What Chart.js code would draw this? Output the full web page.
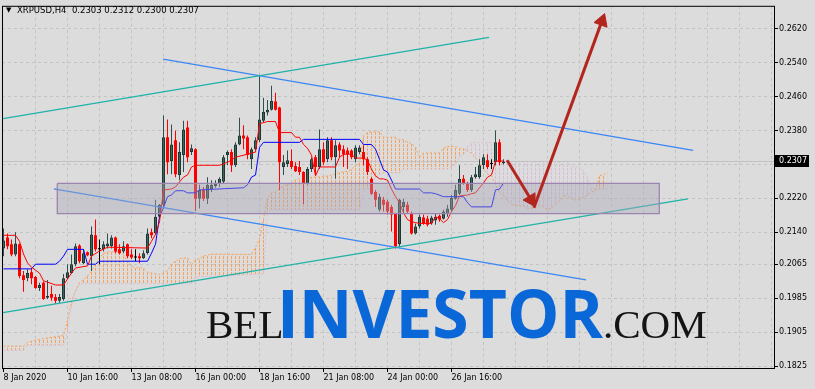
<!DOCTYPE html>
<html><head><meta charset="utf-8">
<script src="https://cdn.jsdelivr.net/npm/chart.js@4.4.1/dist/chart.umd.min.js"></script>
<style>html,body{margin:0;padding:0;background:#DCDCDC;overflow:hidden}canvas{display:block}</style>
</head><body>
<canvas id="c" width="815" height="389"></canvas>
<script>
// ---------- data ----------
const symbolTitle = 'XRPUSD,H4';
const lastQuote = ['0.2303', '0.2312', '0.2300', '0.2307'];
const bidPrice = 0.2307;
const timeLabels = ['8 Jan 2020', '10 Jan 16:00', '13 Jan 08:00', '16 Jan 00:00', '18 Jan 16:00', '21 Jan 08:00', '24 Jan 00:00', '26 Jan 16:00'];
const priceLabels = ['0.2620', '0.2540', '0.2460', '0.2380', '0.2300', '0.2220', '0.2140', '0.2065', '0.1985', '0.1905', '0.1825'];

const opens = [.2102,.2128,.2112,.2088,.2112,.2039,.2032,.2046,.2035,.2009,
.2021,.1986,.1995,.1988,.1979,.1983,.2032,.2044,.2065,.2109,
.2067,.2093,.2084,.2133,.2100,.2100,.2107,.2107,.2128,.2100,
.2095,.2112,.2088,.2081,.2084,.2079,.2091,.2140,.2137,.2177,
.2205,.2364,.2308,.2357,.2275,.2322,.2387,.2329,.2336,.2219,
.2240,.2219,.2242,.2249,.2254,.2259,.2322,.2329,.2298,.2347,
.2368,.2364,.2312,.2336,.2357,.2403,.2422,.2429,.2448,.2434,
.2294,.2301,.2308,.2296,.2294,.2282,.2254,.2289,.2317,.2294,
.2336,.2312,.2357,.2317,.2347,.2336,.2333,.2333,.2312,.2329,
.2329,.2312,.2266,.2235,.2193,.2217,.2212,.2200,.2184,.2112,
.2200,.2205,.2184,.2137,.2154,.2175,.2172,.2161,.2168,.2179,
.2172,.2184,.2193,.2219,.2231,.2266,.2254,.2240,.2270,.2270,
.2298,.2310,.2301,.2305,.2352,.2303];
const highs = [.2149,.2137,.2123,.2140,.2114,.2049,.2053,.2056,.2037,.2021,
.2025,.2028,.2014,.1995,.1995,.2042,.2065,.2088,.2114,.2112,
.2100,.2095,.2154,.2170,.2123,.2119,.2137,.2133,.2130,.2112,
.2119,.2114,.2100,.2100,.2091,.2098,.2149,.2149,.2217,.2207,
.2415,.2406,.2394,.2380,.2352,.2403,.2403,.2347,.2338,.2252,
.2247,.2270,.2263,.2263,.2270,.2322,.2333,.2336,.2352,.2410,
.2392,.2368,.2340,.2364,.2511,.2457,.2452,.2485,.2469,.2436,
.2322,.2333,.2336,.2305,.2308,.2284,.2294,.2317,.2322,.2382,
.2352,.2364,.2364,.2357,.2352,.2345,.2340,.2336,.2345,.2345,
.2345,.2317,.2270,.2240,.2231,.2224,.2217,.2205,.2186,.2219,
.2219,.2212,.2189,.2161,.2182,.2182,.2179,.2179,.2184,.2182,
.2193,.2205,.2228,.2252,.2298,.2275,.2259,.2275,.2294,.2312,
.2324,.2324,.2312,.2380,.2359,.2312];
const lows = [.2084,.2100,.2084,.2084,.2032,.2000,.2025,.2018,.2007,.2002,
.1981,.1983,.1979,.1972,.1974,.1979,.2030,.2042,.2060,.2067,
.2065,.2084,.2049,.2095,.2065,.2095,.2102,.2102,.2091,.2088,
.2091,.2079,.2077,.2072,.2067,.2077,.2088,.2126,.2135,.2172,
.2196,.2277,.2277,.2270,.2263,.2282,.2305,.2322,.2191,.2196,
.2214,.2207,.2235,.2245,.2247,.2254,.2298,.2282,.2294,.2345,
.2336,.2312,.2289,.2333,.2352,.2399,.2415,.2427,.2427,.2240,
.2275,.2294,.2289,.2282,.2275,.2207,.2252,.2282,.2275,.2289,
.2298,.2305,.2310,.2266,.2317,.2294,.2289,.2312,.2305,.2324,
.2298,.2275,.2228,.2200,.2189,.2189,.2182,.2142,.2102,.2105,
.2184,.2184,.2135,.2135,.2149,.2158,.2154,.2158,.2158,.2165,
.2170,.2177,.2189,.2217,.2228,.2252,.2235,.2235,.2266,.2266,
.2289,.2289,.2289,.2298,.2298,.2300];
const closes = [.2121,.2107,.2088,.2114,.2037,.2028,.2044,.2032,.2009,.2016,
.1983,.1990,.1986,.1979,.1988,.2032,.2046,.2065,.2107,.2072,
.2091,.2086,.2135,.2100,.2100,.2112,.2114,.2128,.2095,.2091,
.2107,.2084,.2081,.2081,.2079,.2091,.2137,.2133,.2177,.2205,
.2364,.2305,.2347,.2277,.2329,.2382,.2317,.2338,.2219,.2240,
.2219,.2252,.2252,.2254,.2266,.2317,.2329,.2298,.2347,.2368,
.2361,.2322,.2336,.2357,.2406,.2424,.2429,.2450,.2429,.2305,
.2305,.2310,.2294,.2284,.2282,.2254,.2289,.2312,.2294,.2336,
.2305,.2357,.2317,.2345,.2333,.2324,.2324,.2317,.2340,.2340,
.2312,.2282,.2231,.2217,.2224,.2205,.2189,.2182,.2107,.2217,
.2212,.2189,.2137,.2154,.2177,.2161,.2158,.2175,.2177,.2170,
.2189,.2196,.2221,.2240,.2266,.2254,.2240,.2270,.2277,.2298,
.2317,.2294,.2301,.2352,.2305,.2307];

// Ichimoku lines: [bar, price] breakpoints
const tenkanSen = [[0,.2133],[3,.2133],[4,.2119],[5,.2089],[6,.2068],[7,.2058],[9,.2044],[10,.2026],[13,.2016],[15,.2016],[16,.2030],[17,.2044],[18,.2056],[21,.2061],[22,.2084],[24,.2096],[26,.2105],[36,.2103],[37,.2119],[38,.2135],[39,.2165],[40,.2240],[42,.2242],[43,.2247],[45,.2270],[46,.2275],[47,.2294],[48,.2298],[54,.2298],[55,.2301],[57,.2310],[58,.2317],[61,.2324],[63,.2329],[64,.2396],[66,.2401],[68,.2401],[69,.2375],[72,.2375],[73,.2364],[74,.2364],[75,.2347],[76,.2338],[77,.2322],[78,.2273],[79,.2294],[83,.2294],[84,.2317],[85,.2324],[87,.2324],[88,.2315],[90,.2315],[91,.2310],[92,.2289],[93,.2273],[94,.2266],[95,.2266],[96,.2263],[97,.2242],[98,.2224],[99,.2210],[100,.2186],[101,.2170],[102,.2165],[103,.2163],[104,.2161],[107,.2161],[108,.2177],[109,.2172],[110,.2163],[111,.2170],[112,.2189],[113,.2203],[114,.2226],[116,.2228],[117,.2231],[118,.2233],[119,.2245],[120,.2256],[121,.2270],[122,.2275],[123,.2308],[125,.2308]];
const kijunSen = [[0,.2054],[7,.2054],[8,.2065],[13,.2065],[14,.2072],[15,.2084],[16,.2100],[20,.2100],[21,.2065],[23,.2065],[24,.2072],[36,.2072],[37,.2091],[38,.2112],[39,.2177],[40,.2198],[41,.2224],[42,.2228],[43,.2238],[45,.2238],[46,.2233],[48,.2233],[49,.2240],[60,.2245],[61,.2252],[62,.2270],[63,.2275],[64,.2340],[65,.2352],[74,.2352],[75,.2359],[89,.2359],[90,.2347],[92,.2347],[93,.2336],[94,.2312],[95,.2287],[96,.2282],[97,.2263],[98,.2242],[104,.2242],[105,.2233],[107,.2233],[108,.2231],[110,.2224],[115,.2224],[116,.2210],[117,.2200],[122,.2200],[123,.2240],[124,.2242],[125,.2256]];
const senkouA = [[0,.1872],[5,.1872],[6,.1881],[8,.1886],[12,.1893],[15,.1897],[16,.1932],[17,.1979],[18,.2002],[19,.2021],[21,.2037],[22,.2049],[24,.2080],[25,.2090],[26,.2094],[29,.2094],[30,.2087],[31,.2072],[32,.2061],[33,.2056],[34,.2058],[35,.2055],[36,.2046],[39,.2041],[40,.2044],[41,.2050],[42,.2065],[43,.2072],[44,.2078],[46,.2080],[47,.2063],[48,.2075],[49,.2078],[50,.2084],[52,.2089],[62,.2088],[63,.2105],[64,.2124],[65,.2171],[66,.2219],[67,.2233],[68,.2235],[69,.2243],[71,.2254],[72,.2254],[73,.2264],[74,.2266],[75,.2269],[80,.2271],[81,.2273],[83,.2277],[84,.2281],[86,.2284],[87,.2288],[88,.2298],[89,.2302],[90,.2368],[91,.2375],[92,.2377],[94,.2377],[95,.2364],[98,.2364],[99,.2358],[100,.2358],[101,.2353],[102,.2349],[103,.2341],[104,.2316],[105,.2327],[109,.2327],[110,.2338],[111,.2342],[113,.2342],[114,.2337],[115,.2337],[116,.2331],[117,.2327],[118,.2315],[119,.2305],[120,.2289],[121,.2277],[122,.2273],[123,.2253],[124,.2233],[125,.2226],[126,.2214],[127,.2206],[128,.2204],[129,.2203],[130,.2202],[131,.2197],[133,.2197],[134,.2204],[135,.2200],[136,.2194],[137,.2197],[138,.2207],[139,.2214],[140,.2225],[141,.2226],[142,.2219],[143,.2216],[144,.2217],[145,.2223],[146,.2228],[147,.2235],[148,.2238],[149,.2274],[150,.2275],[151,.2282]];
const senkouB = [[0,.1862],[5,.1862],[6,.1874],[15,.1874],[16,.1909],[17,.1967],[18,.2002],[19,.2019],[47,.2019],[48,.2035],[65,.2042],[66,.2193],[89,.2193],[90,.2241],[91,.2242],[92,.2245],[93,.2270],[94,.2276],[95,.2280],[99,.2280],[100,.2288],[101,.2288],[102,.2289],[111,.2289],[112,.2294],[113,.2300],[114,.2318],[115,.2323],[116,.2341],[117,.2351],[123,.2351],[124,.2307],[141,.2307],[142,.2294],[144,.2294],[145,.2285],[146,.2269],[147,.2242],[151,.2242]];

// drawing objects: [bar, price] anchor points
const tealUpper = [[-0.125, 0.24079], [121.4, 0.25990]];
const tealLower = [[-0.125, 0.19510], [171.1, 0.22191]];
const blueUpper = [[39.9, 0.25478], [172.4, 0.23333]];
const blueLower = [[12.6, 0.22424], [145.6, 0.20280]];
const zoneBars = [13.45, 163.95];
const zonePrices = [0.22552, 0.21841];
const arrowDown = [[125.9, 0.23100], [131.9, 0.22166]];
const arrowUp = [[132.6, 0.21981], [149.6, 0.26375]];

// ---------- chart ----------
const canvas = document.getElementById('c');
const ctx2d = canvas.getContext('2d');
function hatch(color) {
  const c = document.createElement('canvas'); c.width = 4; c.height = 4;
  const g = c.getContext('2d'); g.fillStyle = color; g.fillRect(3, 0, 1, 3);
  return ctx2d.createPattern(c, 'repeat');
}
const pts = arr => arr.map(p => ({x: p[0], y: p[1]}));
const idx = opens.map((_, i) => i);
const dirOf = i => closes[i] > opens[i] ? 1 : (closes[i] < opens[i] ? -1 : 0);
const BULL = '#3A675C', BULL_EDGE = '#1F3531', BEAR = '#FF0000';
const bodyColors = idx.map(i => dirOf(i) > 0 ? BULL : dirOf(i) < 0 ? BEAR : '#000000');
const bodyBorders = idx.map(i => dirOf(i) > 0 ? BULL_EDGE : dirOf(i) < 0 ? BEAR : '#000000');
const bodyBorderW = idx.map(i => dirOf(i) > 0 ? 1 : 0);
const wickColors = idx.map(i => dirOf(i) > 0 ? '#2F4F4F' : dirOf(i) < 0 ? BEAR : '#000000');

const lineDs = (arr, color, order, extra) => Object.assign({
  type: 'line', data: pts(arr), borderColor: color, borderWidth: 1,
  pointRadius: 0, fill: false, tension: 0, order
}, extra || {});

function arrowRotation(c) {
  const d = c.dataset.data, xs = c.chart.scales.x, ys = c.chart.scales.y;
  const dx = xs.getPixelForValue(d[1].x) - xs.getPixelForValue(d[0].x);
  const dy = ys.getPixelForValue(d[1].y) - ys.getPixelForValue(d[0].y);
  return Math.atan2(dx, -dy) * 180 / Math.PI;
}
const arrowDs = arr => lineDs(arr, '#B3261E', 0, {
  borderWidth: 3, pointStyle: 'triangle', pointRotation: arrowRotation,
  pointRadius: c => c.dataIndex === 1 ? 8 : 0,
  pointBackgroundColor: '#B3261E', pointBorderColor: '#B3261E', pointBorderWidth: 1
});

const overlay = {
  id: 'overlay',
  beforeDatasetsDraw(chart) {
    const c = chart.ctx;
    c.save();
    c.textBaseline = 'alphabetic'; c.textAlign = 'left';
    c.fillStyle = '#141414';
    c.font = '41px "Liberation Serif"';
    c.fillText('BEL', 206, 338);
    c.fillStyle = '#0A67D8';
    c.font = 'bold 66px "Open Sans"';
    c.fillText('INVESTOR', 277, 338);
    c.fillStyle = '#141414';
    c.font = '41px "Liberation Serif"';
    c.fillText('.COM', 603, 338);
    c.restore();
  },
  afterDraw(chart) {
    const c = chart.ctx, a = chart.chartArea;
    c.save();
    c.strokeStyle = '#000'; c.lineWidth = 1;
    c.strokeRect(a.left + 0.5, a.top + 0.5, a.right - a.left, a.bottom - a.top);
    c.fillStyle = '#000'; c.textBaseline = 'middle'; c.textAlign = 'left';
    c.font = '7px "DejaVu Sans"';
    c.fillText('\u25BC', 6, 10.5);
    c.font = '8.5px "DejaVu Sans"';
    c.fillText(symbolTitle + '  ' + lastQuote.join(' '), 17, 10.5);
    const y = chart.scales.y.getPixelForValue(bidPrice);
    c.fillRect(a.right + 1, Math.round(y) - 6, 34, 12);
    c.fillStyle = '#fff'; c.font = '8px "DejaVu Sans"';
    c.fillText(lastQuote[3], a.right + 5, Math.round(y));
    c.restore();
  }
};

function build() {
  Chart.defaults.font.family = '"DejaVu Sans"';
  Chart.defaults.font.size = 8;
  Chart.defaults.color = '#000';
  const GRID = '#C4C4C4';
  new Chart(canvas, {
    type: 'line',
    data: {
      datasets: [
        lineDs(senkouB, '#D8BFD8', 20, {borderDash: [2, 2]}),
        lineDs(senkouA, '#F4A460', 19, {borderDash: [2, 2], fill: {target: 0, above: hatch('#F4A460'), below: hatch('#D8BFD8')}}),
        lineDs([[-1, bidPrice], [200, bidPrice]], '#C2C2C2', 18),
        {type: 'bar', data: idx.map(i => ({x: i, y: [lows[i], highs[i]]})), backgroundColor: wickColors,
         borderWidth: 0, barThickness: 1, stack: 'candles', order: 11, inflateAmount: 0, minBarLength: 1},
        {type: 'bar', data: idx.map(i => ({x: i, y: [opens[i], closes[i]]})), backgroundColor: bodyColors,
         borderColor: bodyBorders, borderWidth: bodyBorderW, borderSkipped: false, barThickness: 3,
         stack: 'candles', order: 10, inflateAmount: 0, minBarLength: 1},
        lineDs(tenkanSen, '#FF0000', 8),
        lineDs(kijunSen, '#0000FF', 8),
        lineDs(tealUpper, '#20B2AA', 6, {borderWidth: 1.3}),
        lineDs(tealLower, '#20B2AA', 6, {borderWidth: 1.3}),
        lineDs(blueUpper, '#3B86F5', 6, {borderWidth: 1.3}),
        lineDs(blueLower, '#3B86F5', 6, {borderWidth: 1.3}),
        lineDs([[zoneBars[0], zonePrices[0]], [zoneBars[1], zonePrices[0]], [zoneBars[1], zonePrices[1]], [zoneBars[0], zonePrices[1]], [zoneBars[0], zonePrices[0]]],
          '#9C84B0', 4, {borderWidth: 1.3, fill: 'shape', backgroundColor: 'rgba(168,168,182,0.42)'}),
        arrowDs(arrowDown),
        arrowDs(arrowUp)
      ]
    },
    options: {
      responsive: false, animation: false, devicePixelRatio: 1,
      layout: {autoPadding: false, padding: {left: 2, top: 2, right: 0, bottom: 0}},
      plugins: {legend: {display: false}, tooltip: {enabled: false}},
      scales: {
        x: {
          type: 'linear', min: -0.375, max: 192.625, offset: false, stacked: true,
          afterBuildTicks: s => { s.ticks = Array.from({length: 25}, (_, k) => ({value: 8 * k})); },
          afterFit: s => { s.height = 21; },
          ticks: {autoSkip: false, maxRotation: 0, align: 'start', padding: 1,
            callback: v => (v % 16 === 0 && v / 16 < timeLabels.length) ? timeLabels[v / 16] : ''},
          grid: {offset: false, color: c => c.tick && c.tick.value === 0 ? 'rgba(0,0,0,0)' : GRID,
            tickLength: 4, tickColor: c => (c.tick && c.tick.value % 16 === 0 && c.tick.value / 16 < timeLabels.length) ? '#000' : 'rgba(0,0,0,0)'},
          border: {display: false, dash: [3, 3]}
        },
        y: {
          type: 'linear', position: 'right', min: 0.18205, max: 0.26736, stacked: false,
          afterBuildTicks: s => { s.ticks = priceLabels.map(l => ({value: parseFloat(l)})); },
          afterFit: s => { s.width = 41; },
          ticks: {autoSkip: false, padding: 1, callback: v => priceLabels.find(l => Math.abs(parseFloat(l) - v) < 1e-9) || ''},
          grid: {color: GRID, tickLength: 4, tickColor: '#000'},
          border: {display: false, dash: [3, 3]}
        }
      }
    },
    plugins: [overlay]
  });
}
const fontsToLoad = ['8px "DejaVu Sans"', '41px "Liberation Serif"', 'bold 66px "Open Sans"'];
Promise.all(fontsToLoad.map(f => document.fonts.load(f).catch(() => null))).then(build, build);
</script>
</body></html>
